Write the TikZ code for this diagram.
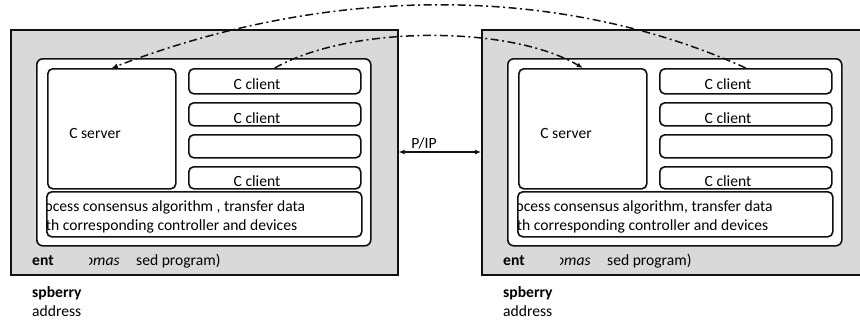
\documentclass[tikz,border=0pt]{standalone}
\usepackage{fontspec}
\setmainfont{Carlito}
\usetikzlibrary{arrows.meta}
\definecolor{boxgray}{HTML}{D9D9D9}
\definecolor{edge}{HTML}{111111}
\tikzset{
  outerbox/.style={draw=edge, line width=1.5pt, fill=boxgray, anchor=north west, inner sep=0pt},
  innerbox/.style={draw=edge, line width=1.6pt, fill=white, rounded corners=6pt, anchor=north west, inner sep=0pt},
  subbox/.style={draw=edge, line width=1.6pt, fill=white, rounded corners=5pt, anchor=north west, inner sep=0pt},
  lbl/.style={inner sep=0pt, font=\fontsize{15.6}{19}\selectfont, text=black},
  lblw/.style={lbl, anchor=base west},
  flow/.style={line width=1.5pt, draw=edge, dash pattern=on 8pt off 3.5pt on 2pt off 3.5pt, -{Latex[length=6pt,width=5pt]}},
  link/.style={line width=1.5pt, draw=edge, {Latex[length=6pt,width=5pt]}-{Latex[length=6pt,width=5pt]}}
}
\newcommand{\mypanel}[1]{%
  \node[innerbox, minimum width=334pt, minimum height=187pt] (inner) at (36,58) {};
  \node[subbox, minimum width=128pt, minimum height=120pt] (srv) at (47,68) {};
  \node[subbox, minimum width=172pt, minimum height=25pt] (c1) at (188,68) {};
  \node[subbox, minimum width=172pt, minimum height=23pt] (c2) at (188,102) {};
  \node[subbox, minimum width=172pt, minimum height=23pt] (c3) at (188,134) {};
  \node[subbox, minimum width=172pt, minimum height=22pt] (c4) at (188,166) {};
  \node[subbox, minimum width=315pt, minimum height=45pt] (proc) at (46,191) {};
  \node[lbl] (srvt) at (95,133) {C server};
  \node[lbl] (c1t) at (257,84) {C client};
  \node[lbl] (c2t) at (257,118) {C client};
  \node[lbl] (c4t) at (257,181) {C client};
  \begin{scope}
    \clip (47,188) rectangle (362,238);
    \node[lblw] (p1) at (31,211) {process consensus algorithm#1 transfer data};
    \node[lblw] (p2) at (31,230) {with corresponding controller and devices};
  \end{scope}
  \node[lblw, font=\fontsize{15.6}{19}\selectfont\bfseries] (ent) at (32,265) {ent};
  \begin{scope}
    \clip (89,248) rectangle (130,272);
    \node[lblw, font=\fontsize{15.6}{19}\selectfont\itshape] (mas) at (85,265) {omas};
  \end{scope}
  \node[lblw] (prog) at (136,265) {sed program)};
  \node[lblw, font=\fontsize{15.6}{19}\selectfont\bfseries] (spb) at (32,297) {spberry};
  \node[lblw] (addr) at (32,316) {address};
}
\begin{document}
\begin{tikzpicture}[x=1pt, y=-1pt]
  \useasboundingbox (0,0) rectangle (860,322);
  \clip (0,0) rectangle (860,322);
  \fill[white] (0,0) rectangle (860,322);
  \node[outerbox, minimum width=387pt, minimum height=245pt] (L-outer) at (10,29) {};
  \node[outerbox, minimum width=400pt, minimum height=245pt] (R-outer) at (481,29) {};
  \begin{scope}[name prefix=L-]
    \mypanel{ ,}
  \end{scope}
  \begin{scope}[shift={(471,0)}, name prefix=R-]
    \mypanel{,}
  \end{scope}
  \draw[link] (L-outer.east |- 0,152) coordinate (la) -- (R-outer.west |- 0,152) coordinate (lb);
  \node[lbl] (tcp) at (424,143) {P/IP};
  \draw[flow] (R-c1.north) .. controls (560,-16) and (330,-16) .. (L-srv.north);
  \draw[flow] (L-c1.north) .. controls (350,25) and (510,25) .. (R-srv.north);
\end{tikzpicture}
\end{document}
